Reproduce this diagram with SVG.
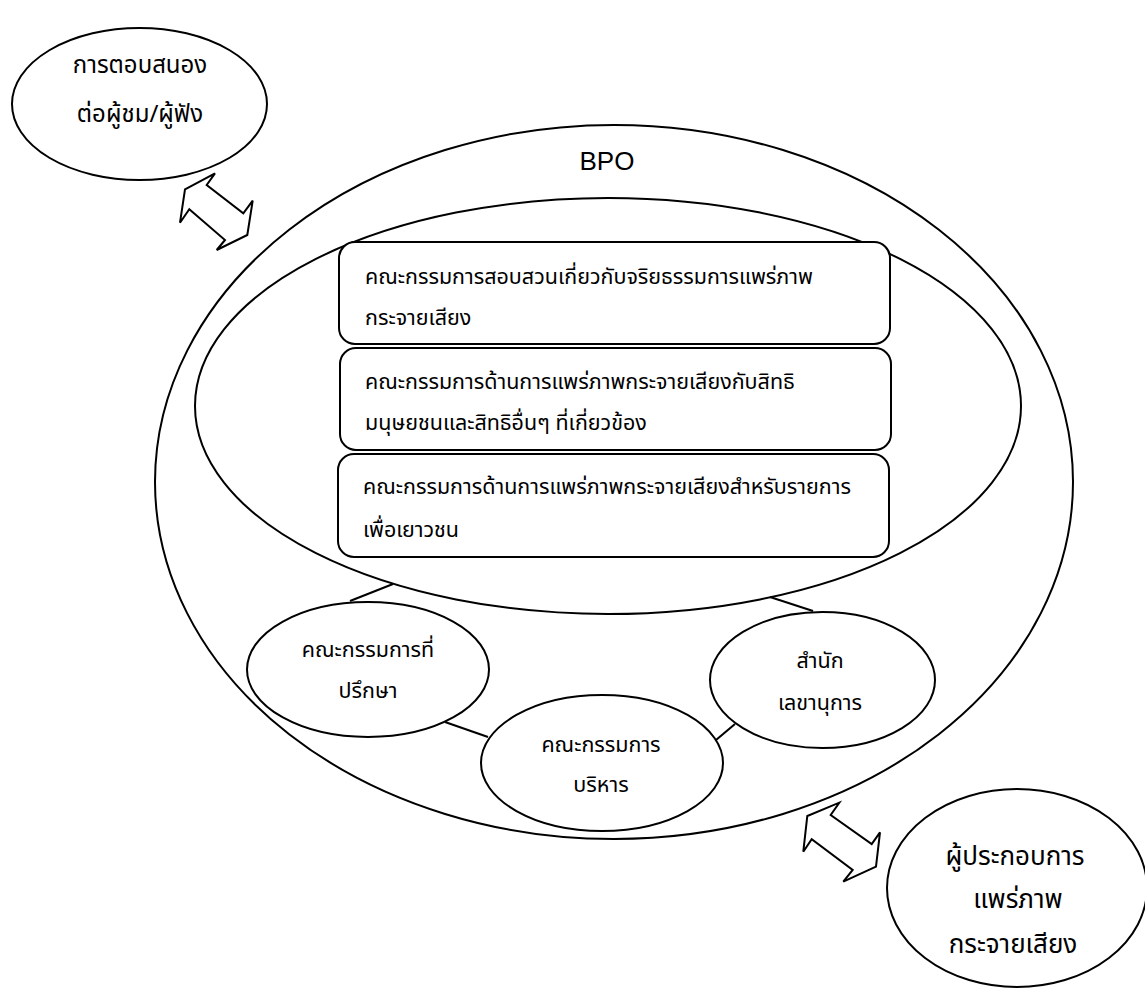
<svg xmlns="http://www.w3.org/2000/svg" width="1145" height="989" viewBox="0 0 1145 989">
<style>
.s{fill:#fff;stroke:#000;stroke-width:2}
.o{fill:none;stroke:#000;stroke-width:2}
.ln{stroke:#000;stroke-width:2;fill:none}
.t{font-family:"Noto Sans Thai","Noto Sans","DejaVu Sans",sans-serif;font-size:21.5px;fill:#000}
.c{text-anchor:middle}
.l{font-size:24px}
.xl{font-size:26px}
.b{font-family:"Liberation Sans","Noto Sans",sans-serif;font-size:26px;fill:#000;text-anchor:middle}
</style>
<rect width="1145" height="989" fill="#fff"/>
<g id="bpo">
<ellipse class="o" cx="614" cy="482" rx="459" ry="357"/>
<text class="b" x="607" y="170">BPO</text>
</g>
<g id="inner">
<ellipse class="o" cx="608" cy="406" rx="413" ry="208"/>
</g>
<g id="connectors">
<line class="ln" x1="393" y1="584" x2="350" y2="601"/>
<line class="ln" x1="445" y1="722" x2="488" y2="737"/>
<line class="ln" x1="716" y1="740" x2="735" y2="724"/>
<line class="ln" x1="770" y1="597" x2="813" y2="611"/>
<polygon class="s" points="215,173.3 206.7,185 243.3,213.3 252.7,200.7 247.3,235 216.7,250 225,240 189.3,209.3 180,222.7 185,189.3"/>
<polygon class="s" points="839.3,802.7 830.7,815 871.7,844 880,832.3 876,866.7 843.3,881.7 852.7,870 811.7,839.3 803.3,851.7 807.3,816"/>
</g>
<g id="box1">
<rect class="s" x="339" y="242" width="551" height="102" rx="16"/>
<text class="t" x="365" y="284">คณะกรรมการสอบสวนเกี่ยวกับจริยธรรมการแพร่ภาพ</text>
<text class="t" x="365" y="325">กระจายเสียง</text>
</g>
<g id="box2">
<rect class="s" x="340" y="348" width="551" height="102" rx="16"/>
<text class="t" x="365" y="389">คณะกรรมการด้านการแพร่ภาพกระจายเสียงกับสิทธิ</text>
<text class="t" x="365" y="430">มนุษยชนและสิทธิอื่นๆ ที่เกี่ยวข้อง</text>
</g>
<g id="box3">
<rect class="s" x="338" y="454" width="551" height="103" rx="16"/>
<text class="t" x="363" y="494">คณะกรรมการด้านการแพร่ภาพกระจายเสียงสำหรับรายการ</text>
<text class="t" x="363" y="537">เพื่อเยาวชน</text>
</g>
<g id="advisory">
<ellipse class="s" cx="368" cy="669.5" rx="121" ry="67.5"/>
<text class="t c" x="368" y="657">คณะกรรมการที่</text>
<text class="t c" x="368" y="698">ปรึกษา</text>
</g>
<g id="executive">
<ellipse class="s" cx="602" cy="763" rx="121" ry="68"/>
<text class="t c" x="601" y="752">คณะกรรมการ</text>
<text class="t c" x="601" y="792">บริหาร</text>
</g>
<g id="secretariat">
<ellipse class="s" cx="822.5" cy="680" rx="112.5" ry="68"/>
<text class="t c" x="820" y="668">สำนัก</text>
<text class="t c" x="820" y="710">เลขานุการ</text>
</g>
<g id="audience">
<ellipse class="s" cx="139.5" cy="104" rx="127.5" ry="76"/>
<text class="t c l" x="140" y="73">การตอบสนอง</text>
<text class="t c l" x="140" y="122">ต่อผู้ชม/ผู้ฟัง</text>
</g>
<g id="operators">
<ellipse class="s" cx="1017" cy="888" rx="130" ry="99"/>
<text class="t c xl" x="1015" y="865">ผู้ประกอบการ</text>
<text class="t c xl" x="1018" y="908">แพร่ภาพ</text>
<text class="t c xl" x="1013" y="953">กระจายเสียง</text>
</g>
</svg>
